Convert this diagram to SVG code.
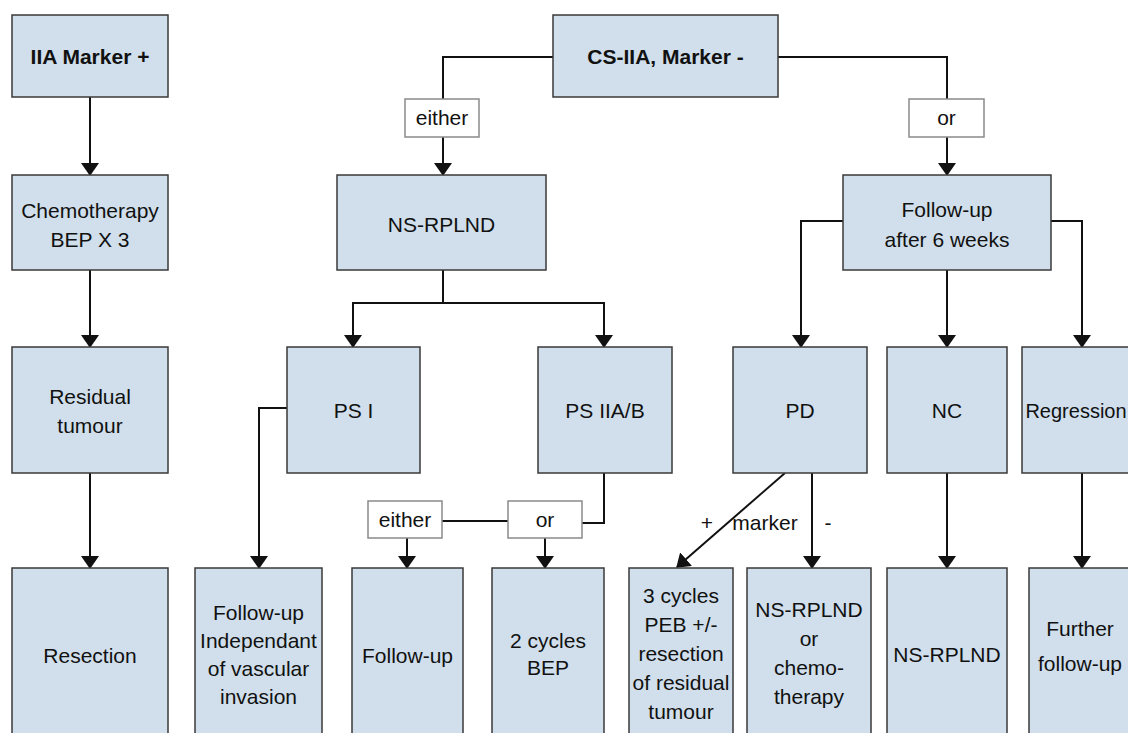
<svg xmlns="http://www.w3.org/2000/svg" width="1128" height="733" viewBox="0 0 1128 733">
<defs>
<style>
.n{fill:#d0dfeb;stroke:#3a3a3a;stroke-width:1.5}
.l{fill:#ffffff;stroke:#8a8a8a;stroke-width:1.5}
.t{font-family:"Liberation Sans",Arial,sans-serif;font-size:21px;fill:#111;text-anchor:middle}
.b{font-weight:bold}
.c{fill:none;stroke:#111;stroke-width:2}
.a{marker-end:url(#ah)}
</style>
<marker id="ah" markerUnits="userSpaceOnUse" markerWidth="13" markerHeight="18" viewBox="0 0 13 18" refX="12" refY="9" orient="auto">
<path d="M0,0 L13,9 L0,18 z" fill="#111"/>
</marker>
</defs>
<rect width="1128" height="733" fill="#ffffff"/>

<g id="connectors">
<path class="c a" d="M90,97 V175"/>
<path class="c a" d="M90,270 V347"/>
<path class="c a" d="M90,473 V568"/>
<path class="c" d="M553,57 H443 V99"/>
<path class="c a" d="M443,137 V175"/>
<path class="c" d="M778,57 H947 V99"/>
<path class="c a" d="M947,137 V175"/>
<path class="c a" d="M443,270 V303 H353 V347"/>
<path class="c a" d="M443,303 H604 V347"/>
<path class="c a" d="M287,408 H259 V568"/>
<path class="c" d="M604,473 V523 H582"/>
<path class="c" d="M442,521 H508"/>
<path class="c a" d="M407,538 V568"/>
<path class="c a" d="M545,538 V568"/>
<path class="c a" d="M843,221 H801 V347"/>
<path class="c a" d="M947,270 V347"/>
<path class="c a" d="M1051,221 H1082 V347"/>
<path class="c a" d="M785,473 L677,567"/>
<path class="c a" d="M812,473 V568"/>
<path class="c a" d="M947,473 V568"/>
<path class="c a" d="M1082,473 V568"/>
<text class="t" x="707" y="530">+</text>
<text class="t" x="765" y="530">marker</text>
<text class="t" x="828" y="530">-</text>
</g>

<g id="lbl-either1"><rect class="l" x="405" y="99" width="74" height="38"/><text class="t" x="442" y="125">either</text></g>
<g id="lbl-or1"><rect class="l" x="909" y="99" width="75" height="38"/><text class="t" x="946.5" y="125">or</text></g>
<g id="lbl-either2"><rect class="l" x="368" y="501" width="74" height="37"/><text class="t" x="405" y="527">either</text></g>
<g id="lbl-or2"><rect class="l" x="508" y="501" width="74" height="37"/><text class="t" x="545" y="527">or</text></g>

<g id="n1"><rect class="n" x="12" y="15" width="156" height="82"/><text class="t b" x="90" y="64">IIA Marker +</text></g>
<g id="n2"><rect class="n" x="553" y="15" width="225" height="82"/><text class="t b" x="665.5" y="64">CS-IIA, Marker -</text></g>
<g id="n3"><rect class="n" x="12" y="175" width="156" height="95"/><text class="t" x="90" y="218">Chemotherapy</text><text class="t" x="90" y="247">BEP X 3</text></g>
<g id="n4"><rect class="n" x="337" y="175" width="209" height="95"/><text class="t" x="441.5" y="232">NS-RPLND</text></g>
<g id="n5"><rect class="n" x="843" y="175" width="208" height="95"/><text class="t" x="947" y="217">Follow-up</text><text class="t" x="947" y="247">after 6 weeks</text></g>
<g id="n6"><rect class="n" x="12" y="347" width="156" height="126"/><text class="t" x="90" y="404">Residual</text><text class="t" x="90" y="433">tumour</text></g>
<g id="n7"><rect class="n" x="287" y="347" width="133" height="126"/><text class="t" x="353.5" y="418">PS I</text></g>
<g id="n8"><rect class="n" x="538" y="347" width="134" height="126"/><text class="t" x="605" y="418">PS IIA/B</text></g>
<g id="n9"><rect class="n" x="733" y="347" width="134" height="126"/><text class="t" x="800" y="418">PD</text></g>
<g id="n10"><rect class="n" x="887" y="347" width="120" height="126"/><text class="t" x="947" y="418">NC</text></g>
<g id="n11"><rect class="n" x="1022" y="347" width="130" height="126"/><text class="t" x="1076" y="418" style="font-size:20px">Regression</text></g>
<g id="n12"><rect class="n" x="12" y="568" width="156" height="180"/><text class="t" x="90" y="663">Resection</text></g>
<g id="n13"><rect class="n" x="195" y="568" width="127" height="180"/><text class="t" x="258.5" y="620">Follow-up</text><text class="t" x="258.5" y="648">Independant</text><text class="t" x="258.5" y="676">of vascular</text><text class="t" x="258.5" y="704">invasion</text></g>
<g id="n14"><rect class="n" x="352" y="568" width="111" height="180"/><text class="t" x="407.5" y="663">Follow-up</text></g>
<g id="n15"><rect class="n" x="492" y="568" width="112" height="180"/><text class="t" x="548" y="648">2 cycles</text><text class="t" x="548" y="675">BEP</text></g>
<g id="n16"><rect class="n" x="629" y="568" width="104" height="180"/><text class="t" x="681" y="603">3 cycles</text><text class="t" x="681" y="632">PEB +/-</text><text class="t" x="681" y="661">resection</text><text class="t" x="681" y="690">of residual</text><text class="t" x="681" y="719">tumour</text></g>
<g id="n17"><rect class="n" x="747" y="568" width="124" height="180"/><text class="t" x="809" y="617">NS-RPLND</text><text class="t" x="809" y="646">or</text><text class="t" x="809" y="675">chemo-</text><text class="t" x="809" y="704">therapy</text></g>
<g id="n18"><rect class="n" x="887" y="568" width="120" height="180"/><text class="t" x="947" y="662">NS-RPLND</text></g>
<g id="n19"><rect class="n" x="1029" y="568" width="130" height="180"/><text class="t" x="1080" y="636">Further</text><text class="t" x="1080" y="671">follow-up</text></g>
</svg>
